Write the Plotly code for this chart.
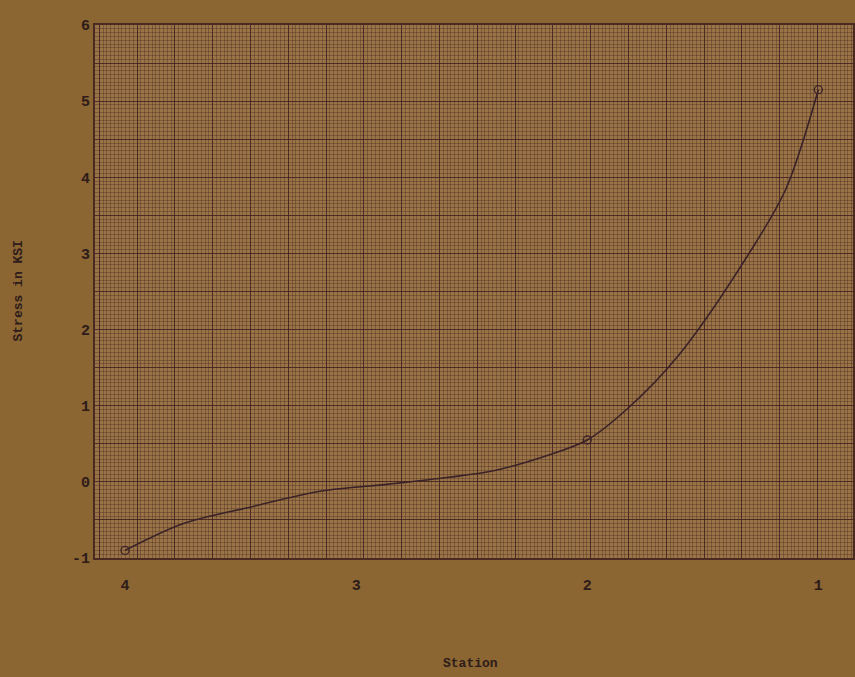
import plotly.graph_objects as go

# Values
curve_station = [4.0, 3.75, 3.47, 3.15, 2.86, 2.6, 2.4, 2.17, 2.0, 1.83, 1.6, 1.3, 1.14, 1.0]
curve_stress = [-0.9, -0.55, -0.34, -0.12, -0.03, 0.06, 0.15, 0.35, 0.55, 0.95, 1.68, 3.0, 3.85, 5.15]
point_station = [4, 2, 1]
point_stress = [-0.9, 0.55, 5.15]
x_tick_vals = [4, 3, 2, 1]
x_tick_text = ["4", "3", "2", "1"]
y_tick_vals = [-1, 0, 1, 2, 3, 4, 5, 6]
y_tick_text = ["-1", "0", "1", "2", "3", "4", "5", "6"]

X_RANGE = [4.13, 0.85]
Y_RANGE = [-1, 6]
INK = "#2e1c1a"
FONT = "Liberation Mono"

fig = go.Figure()
fig.add_trace(go.Scatter(
    x=curve_station, y=curve_stress, mode="lines",
    line=dict(color="#3a2228", width=1.6, shape="spline", smoothing=0.9),
    xaxis="x", yaxis="y", hoverinfo="skip", showlegend=False,
))
fig.add_trace(go.Scatter(
    x=point_station, y=point_stress, mode="markers",
    marker=dict(symbol="circle-open", size=8, color="#3a2228", line=dict(width=1.3)),
    xaxis="x2", yaxis="y2", showlegend=False,
))

grid_major = "rgba(62,32,30,0.85)"
grid_minor = "rgba(70,42,34,0.38)"

fig.update_layout(
    width=855, height=677,
    margin=dict(l=95, r=0, t=25, b=119),
    paper_bgcolor="#8b6532",
    plot_bgcolor="#9a7446",
    xaxis=dict(
        range=X_RANGE, showticklabels=False, ticks="", zeroline=False,
        showgrid=True, gridcolor=grid_major, gridwidth=1.3,
        tick0=3.948, dtick=0.1636,
        minor=dict(showgrid=True, gridcolor=grid_minor, gridwidth=1, dtick=0.01636, tick0=3.948),
        showline=True, linecolor=grid_major, linewidth=1.6, mirror=True,
    ),
    yaxis=dict(
        range=Y_RANGE, showticklabels=False, ticks="", zeroline=False,
        showgrid=True, gridcolor=grid_major, gridwidth=1.3,
        tick0=0, dtick=0.5,
        minor=dict(showgrid=True, gridcolor=grid_minor, gridwidth=1, dtick=0.05, tick0=0),
        showline=True, linecolor=grid_major, linewidth=1.6, mirror=True,
    ),
    xaxis2=dict(
        range=X_RANGE, overlaying="x", side="bottom", anchor="y2",
        tickmode="array", tickvals=x_tick_vals, ticktext=x_tick_text,
        showgrid=False, zeroline=False, ticks="", ticklabelstandoff=16,
        tickfont=dict(family=FONT, size=15, color=INK, weight="bold"),
    ),
    yaxis2=dict(
        range=Y_RANGE, overlaying="y", side="left", anchor="x2",
        tickmode="array", tickvals=y_tick_vals, ticktext=y_tick_text,
        showgrid=False, zeroline=False, ticks="", ticklabelstandoff=4,
        tickfont=dict(family=FONT, size=15, color=INK, weight="bold"),
    ),
    annotations=[
        dict(text="<b>Station</b>", xref="paper", yref="paper", x=0.495, y=0,
             yshift=-105, showarrow=False, yanchor="middle",
             font=dict(family=FONT, size=13, color=INK)),
        dict(text="<b>Stress in KSI</b>", xref="paper", yref="paper", x=0, y=0.5,
             xshift=-77, showarrow=False, textangle=-90, xanchor="center",
             font=dict(family=FONT, size=13, color=INK)),
    ],
)

fig.write_html(
    "out.html",
    config={"displayModeBar": False},
    post_script="document.body.style.margin='0';document.body.style.background='#8b6532';",
)
